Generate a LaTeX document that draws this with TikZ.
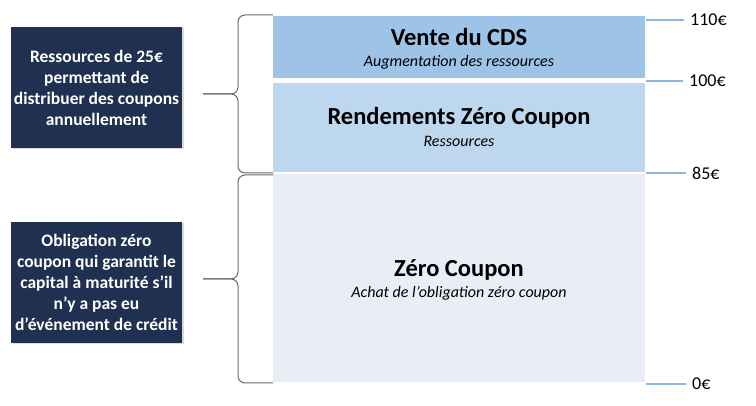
\documentclass[tikz,border=0pt]{standalone}
\usepackage{fontspec}
\setmainfont{Carlito}
\usepackage{tikz}
\usetikzlibrary{positioning,shadows}
\definecolor{cdsblue}{HTML}{9DC3E6}
\definecolor{zcblue}{HTML}{BDD7EE}
\definecolor{zcpale}{HTML}{E9EDF6}
\definecolor{navy}{HTML}{1F3050}
\definecolor{bracegray}{HTML}{6A6A6A}
\definecolor{tickblue}{HTML}{8DB8E2}

\tikzset{
    tranche/.style={rectangle, inner sep=0pt, minimum width=372pt},
    titre/.style={anchor=base, inner sep=0pt, font=\bfseries\fontsize{24.5}{28}\selectfont},
    soustitre/.style={anchor=base, inner sep=0pt, font=\itshape\fontsize{16}{19}\selectfont},
    legende/.style={rectangle, fill=navy, text=white, align=center, inner sep=0pt,
        minimum width=171pt, minimum height=121pt,
        font=\bfseries\fontsize{17.5}{21}\selectfont,
        drop shadow={shadow xshift=1.5pt, shadow yshift=-1.5pt, opacity=0.3}},
    niveau/.style={anchor=west, inner sep=0pt, font=\fontsize{18}{21}\selectfont},
    graduation/.style={draw=tickblue, line width=1.3pt},
    accolade/.style={draw=bracegray, line width=1pt, rounded corners=7pt}
}

\begin{document}
\begin{tikzpicture}[x=1pt, y=-1pt]
    \useasboundingbox (0,0) rectangle (756,406);
    % tranches
    \node[tranche, fill=cdsblue, minimum height=62pt] (vente) at (459,47) {};
    \node[tranche, fill=zcblue, minimum height=89pt] (rendement) at (459,127.5) {};
    \node[tranche, fill=zcpale, minimum height=208pt] (zero) at (459,278) {};

    \node[titre] (vente-t) at (459,46) {Vente du CDS};
    \node[soustitre] (vente-s) at (459,67) {Augmentation des ressources};
    \node[titre] (rendement-t) at (459,125) {Rendements Zéro Coupon};
    \node[soustitre] (rendement-s) at (459,147) {Ressources};
    \node[titre] (zero-t) at (459,277) {Zéro Coupon};
    \node[soustitre] (zero-s) at (459,298) {Achat de l’obligation zéro coupon};

    % graduations
    \foreach \val/\y/\x in {110/20/690, 100/81/689, 85/173/692, 0/384/692}{
        \coordinate (g\val) at (646,\y);
        \node[niveau] (n\val) at (\x,\y) {\val€};
        \draw[graduation] (g\val) -- ([xshift=-6pt]n\val.west |- g\val);
    }

    % legendes
    \node[legende] (ressources) at (96.5,87.5)
        {Ressources de 25€\\permettant de\\distribuer des coupons\\annuellement};
    \node[legende] (obligation) at (96.5,282.5)
        {Obligation zéro\\coupon qui garantit le\\capital à maturité s’il\\n’y a pas eu\\d’événement de crédit};

    % accolades
    \coordinate (a1h) at (273,15);
    \coordinate (a1b) at (273,173);
    \coordinate (a1p) at (203,94);
    \coordinate (a2h) at (273,175);
    \coordinate (a2b) at (273,383);
    \coordinate (a2p) at (203,279);
    \draw[accolade] (a1h) -- ++(-35,0) |- (a1p);
    \draw[accolade] (a1b) -- ++(-35,0) |- (a1p);
    \draw[accolade] (a2h) -- ++(-35,0) |- (a2p);
    \draw[accolade] (a2b) -- ++(-35,0) |- (a2p);
\end{tikzpicture}
\end{document}
